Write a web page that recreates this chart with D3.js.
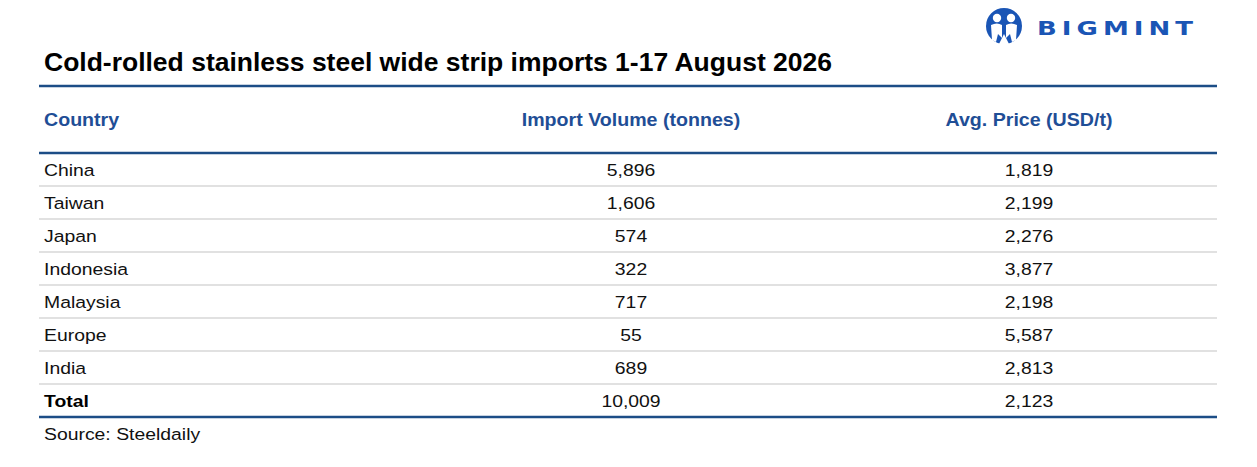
<!DOCTYPE html>
<html>
<head>
<meta charset="utf-8">
<script src="https://cdn.jsdelivr.net/npm/d3@7"></script>
<style>
  body { margin: 0; background: #fff; }
  text { font-family: "Liberation Sans", Arial, sans-serif; }
</style>
</head>
<body>
<div id="chart"></div>
<script>
// data
const countries = ["China", "Taiwan", "Japan", "Indonesia", "Malaysia", "Europe", "India"]
const volumes = [5896, 1606, 574, 322, 717, 55, 689]
const prices = [1819, 2199, 2276, 3877, 2198, 5587, 2813]
const totalRow = { country: "Total", volume: 10009, price: 2123 }
const headers = ["Country", "Import Volume (tonnes)", "Avg. Price (USD/t)"]
const title = "Cold-rolled stainless steel wide strip imports 1-17 August 2026"
const source = "Source: Steeldaily"

const W = 1257, H = 467
const dark = "#1c4d86"
const headBlue = "#1f4e96"
const logoBlue = "#1a55b5"

const rows = countries.map((c, i) => ({ country: c, volume: volumes[i], price: prices[i] }))
rows.push(totalRow)

const fmt = d3.format(",")

const svg = d3.select("#chart").append("svg")
  .attr("width", W)
  .attr("height", H)

// scales
let x = d3.scalePoint().domain(["volume", "price"]).range([631, 1029])
let y = d3.scaleBand().domain(rows.map(d => d.country)).range([153, 417]).padding(0)
let left = 44, lineL = 39, lineR = 1217

// text glyphs in the source are a little wider than Arial
const wide = (sel, px, py, sx) => sel.attr("transform", `translate(${px},${py}) scale(${sx},1)`)

// title
svg.append("text")
  .attr("x", left)
  .attr("y", 71)
  .attr("textLength", 788)
  .attr("lengthAdjust", "spacingAndGlyphs")
  .style("font-size", "25px")
  .style("font-weight", "bold")
  .attr("fill", "#000")
  .text(title)

// logo
let logo = svg.append("g").attr("transform", "translate(1004,26)")
logo.append("circle").attr("r", 18).attr("fill", logoBlue)
logo.append("circle").attr("cx", -7).attr("cy", -8).attr("r", 4.2).attr("fill", "#fff")
logo.append("circle").attr("cx", 7).attr("cy", -8).attr("r", 4.2).attr("fill", "#fff")
logo.append("path")
  .attr("d", "M-13,-1 Q-7,-4 -2,-1 L-2,12 L-6,8 L-8,16 L-12,14 Z M13,-1 Q7,-4 2,-1 L2,12 L6,8 L8,16 L12,14 Z")
  .attr("fill", "#fff")
logo.append("path")
  .attr("d", "M-5,18 L0,8 L5,18 Z")
  .attr("fill", "#fff")
wide(svg.append("text")
  .attr("textLength", 120)
  .attr("lengthAdjust", "spacing")
  .style("font-family", "'DejaVu Sans', sans-serif")
  .style("font-size", "20px")
  .style("font-weight", "bold")
  .attr("fill", logoBlue)
  .text("BIGMINT"), 1037, 35, 1.3)

// rules
const rule = (yy, color, w) => svg.append("line")
  .attr("x1", lineL).attr("x2", lineR)
  .attr("y1", yy).attr("y2", yy)
  .attr("stroke", color).attr("stroke-width", w)

rule(86, dark, 2.5)
rule(y.range()[0], dark, 2.5)
rows.slice(0, -1).forEach(d => rule(y(d.country) + y.bandwidth(), "#c4c4c4", 1.2))
rule(y.range()[1], dark, 2.5)

// header
let hy = 125.5
let head = svg.append("g")
  .style("font-size", "18px")
  .style("font-weight", "bold")
  .attr("fill", headBlue)
wide(head.append("text").text(headers[0]), left, hy, 1.09)
wide(head.append("text").attr("text-anchor", "middle").text(headers[1]), x("volume"), hy, 1.09)
wide(head.append("text").attr("text-anchor", "middle").text(headers[2]), x("price"), hy, 1.09)

// body
let body = svg.append("g")
  .style("font-size", "17px")
  .attr("fill", "#111")

let row = body.selectAll("g.row")
  .data(rows)
  .enter()
  .append("g")
  .attr("class", "row")
  .attr("transform", d => "translate(0," + (y(d.country) + y.bandwidth() / 2 + 6) + ")")

row.append("text")
  .attr("transform", `translate(${left},0) scale(1.14,1)`)
  .style("font-weight", d => d.country === "Total" ? "bold" : "normal")
  .attr("fill", d => d.country === "Total" ? "#000" : "#111")
  .text(d => d.country)
row.append("text")
  .attr("transform", `translate(${x("volume")},0) scale(1.14,1)`)
  .attr("text-anchor", "middle")
  .text(d => fmt(d.volume))
row.append("text")
  .attr("transform", `translate(${x("price")},0) scale(1.14,1)`)
  .attr("text-anchor", "middle")
  .text(d => fmt(d.price))

// source
wide(svg.append("text")
  .style("font-size", "17px")
  .attr("fill", "#111")
  .text(source), left, 440, 1.14)
</script>
</body>
</html>
